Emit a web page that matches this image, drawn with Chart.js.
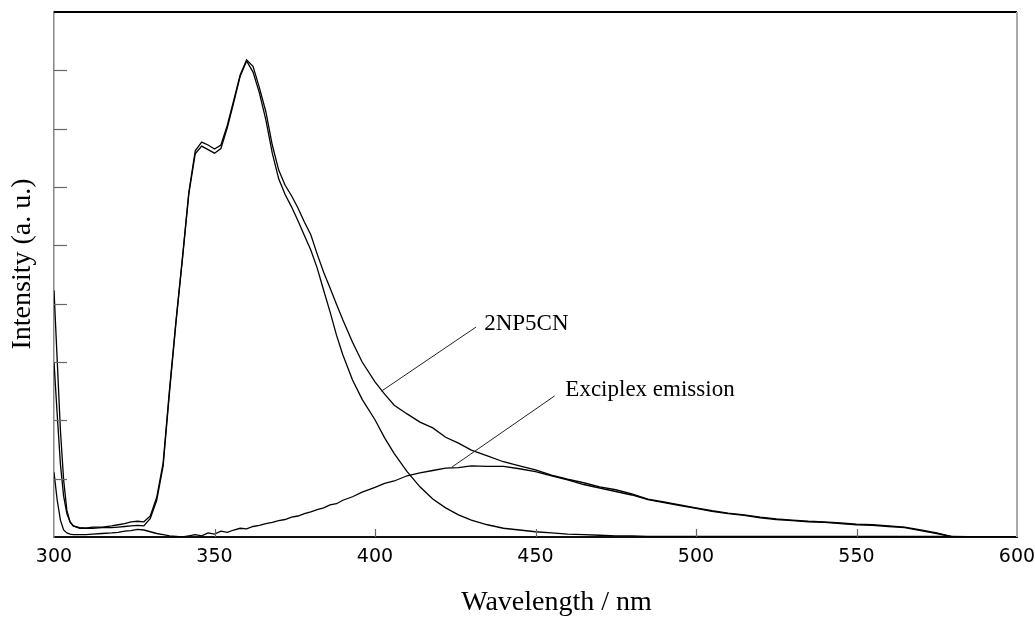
<!DOCTYPE html>
<html>
<head>
<meta charset="utf-8">
<script src="https://cdn.jsdelivr.net/npm/chart.js@4.4.1/dist/chart.umd.min.js"></script>
<style>
  html, body { margin: 0; padding: 0; background: #fff; }
  #wrap { width: 1035px; height: 621px; }
</style>
</head>
<body>
<div id="wrap"><canvas id="c" width="1035" height="621"></canvas></div>
<script>
// Wavelength grid (nm)
const wavelengths = [300,301,302,303,304,305,306,308,310,312,315,318,320,322,324,326,328,330,332,334,336,338,340,342,344,346,348,350,352,354,356,358,360,362,364,366,368,370,372,374,376,378,380,382,384,386,388,390,393,396,400,403,406,410,414,418,422,426,430,435,440,445,450,455,460,465,470,475,480,485,490,495,500,505,510,515,520,525,530,535,540,545,550,555,560,565,570,575,580,590,600];

// 2NP5CN (total emission)
const intensity2NP5CN = [4.23,3.03,1.83,0.98,0.46,0.26,0.19,0.15,0.15,0.17,0.17,0.19,0.21,0.23,0.26,0.27,0.26,0.36,0.68,1.27,2.54,3.70,4.78,5.91,6.62,6.77,6.72,6.65,6.72,7.06,7.49,7.92,8.18,8.07,7.70,7.29,6.72,6.29,6.03,5.85,5.64,5.40,5.18,4.85,4.54,4.27,3.99,3.72,3.34,3.00,2.66,2.45,2.26,2.11,1.97,1.87,1.71,1.61,1.49,1.39,1.29,1.22,1.15,1.06,0.99,0.93,0.86,0.81,0.74,0.65,0.60,0.55,0.50,0.45,0.41,0.38,0.34,0.31,0.29,0.27,0.26,0.24,0.22,0.21,0.19,0.17,0.12,0.07,0.00,0.00,0.00];

// 2NP (monomer emission)
const intensity2NP = [3.00,2.10,1.25,0.70,0.40,0.26,0.19,0.16,0.15,0.15,0.16,0.16,0.17,0.18,0.19,0.20,0.19,0.32,0.63,1.22,2.49,3.68,4.76,5.88,6.57,6.70,6.64,6.58,6.66,7.02,7.45,7.90,8.16,7.97,7.61,7.15,6.58,6.14,5.87,5.66,5.42,5.17,4.92,4.61,4.23,3.86,3.46,3.12,2.69,2.36,2.01,1.70,1.43,1.12,0.86,0.65,0.50,0.38,0.29,0.21,0.15,0.12,0.09,0.07,0.05,0.04,0.03,0.02,0.02,0.01,0.01,0.01,0.01,0.01,0.01,0.01,0.01,0.01,0.01,0.01,0.01,0.01,0.01,0.01,0.01,0.01,0.01,0.01,0.01,0.00,0.00];

// Exciplex emission (difference spectrum)
const intensityExciplex = [1.11,0.63,0.29,0.12,0.07,0.05,0.04,0.04,0.04,0.05,0.06,0.07,0.08,0.10,0.11,0.13,0.12,0.09,0.06,0.04,0.02,0.01,0.00,0.02,0.04,0.02,0.07,0.05,0.10,0.08,0.12,0.15,0.14,0.18,0.20,0.23,0.25,0.28,0.30,0.34,0.36,0.40,0.43,0.47,0.50,0.55,0.57,0.63,0.69,0.77,0.85,0.92,0.96,1.05,1.10,1.14,1.18,1.19,1.22,1.21,1.21,1.17,1.12,1.05,0.98,0.90,0.84,0.78,0.72,0.64,0.59,0.54,0.49,0.44,0.40,0.37,0.33,0.30,0.28,0.26,0.25,0.23,0.21,0.20,0.18,0.16,0.11,0.06,0.00,0.00,0.00];

// Axis ticks
const xTicks = [300, 350, 400, 450, 500, 550, 600];
const yTicks = [1, 2, 3, 4, 5, 6, 7, 8];

// Annotation labels: text, text anchor (nm, a.u.), leader line from -> to (nm, a.u.)
const labelTexts = ['2NP5CN', 'Exciplex emission'];
const labelAnchors = [[434, 3.55], [459.3, 2.42]];
const leaderFrom = [[431.5, 3.6], [456, 2.42]];
const leaderTo = [[402, 2.5], [424, 1.2]];

const toXY = ys => wavelengths.map((w, i) => ({ x: w, y: ys[i] }));

const insideTicks = {
  id: 'insideTicks',
  afterDraw(chart) {
    const { ctx, chartArea: a, scales: { x, y } } = chart;
    ctx.save();
    // frame top and right
    ctx.lineWidth = 2;
    ctx.strokeStyle = '#000';
    ctx.beginPath(); ctx.moveTo(a.left, a.top); ctx.lineTo(a.right, a.top); ctx.stroke();
    ctx.strokeStyle = '#aaa';
    ctx.beginPath(); ctx.moveTo(a.right, a.top); ctx.lineTo(a.right, a.bottom); ctx.stroke();
    // inward ticks
    ctx.lineWidth = 1.2;
    ctx.strokeStyle = '#666';
    yTicks.forEach(v => {
      const py = Math.round(y.getPixelForValue(v)) + 0.5;
      ctx.beginPath(); ctx.moveTo(a.left, py); ctx.lineTo(a.left + 13, py); ctx.stroke();
    });
    xTicks.slice(1, -1).forEach(v => {
      const px = Math.round(x.getPixelForValue(v)) + 0.5;
      ctx.beginPath(); ctx.moveTo(px, a.bottom); ctx.lineTo(px, a.bottom - 8); ctx.stroke();
    });
    // annotations
    ctx.strokeStyle = '#222';
    ctx.lineWidth = 1;
    ctx.fillStyle = '#000';
    ctx.font = '23px "Liberation Serif", "Times New Roman", serif';
    ctx.textBaseline = 'alphabetic';
    labelTexts.forEach((t, i) => {
      ctx.beginPath();
      ctx.moveTo(x.getPixelForValue(leaderFrom[i][0]), y.getPixelForValue(leaderFrom[i][1]));
      ctx.lineTo(x.getPixelForValue(leaderTo[i][0]), y.getPixelForValue(leaderTo[i][1]));
      ctx.stroke();
      ctx.fillText(t, x.getPixelForValue(labelAnchors[i][0]), y.getPixelForValue(labelAnchors[i][1]));
    });
    ctx.restore();
  }
};

const lineStyle = { borderColor: '#000', borderWidth: 1.3, pointRadius: 0, tension: 0, fill: false };

new Chart(document.getElementById('c'), {
  type: 'line',
  data: {
    datasets: [
      { label: '2NP5CN', data: toXY(intensity2NP5CN), ...lineStyle },
      { label: '2NP', data: toXY(intensity2NP), ...lineStyle },
      { label: 'Exciplex emission', data: toXY(intensityExciplex), ...lineStyle }
    ]
  },
  options: {
    responsive: false,
    animation: false,
    events: [],
    layout: { padding: { top: 12, right: 18, left: 0, bottom: 0 } },
    plugins: { legend: { display: false }, tooltip: { enabled: false } },
    scales: {
      x: {
        type: 'linear',
        min: 300, max: 600,
        afterBuildTicks: s => { s.ticks = xTicks.map(v => ({ value: v })); },
        afterFit: s => { s.height = 84; s.paddingLeft = 0; s.paddingRight = 0; },
        grid: { display: false, drawTicks: false },
        border: { display: true, color: '#111', width: 2 },
        ticks: {
          color: '#000',
          padding: 9,
          maxRotation: 0,
          autoSkip: false,
          font: { family: '"DejaVu Sans", sans-serif', size: 19 }
        },
        title: {
          display: true,
          text: '\u00a0\u00a0\u00a0\u00a0\u00a0\u00a0Wavelength / nm',
          color: '#000',
          padding: { top: 0, bottom: 2 },
          font: { family: '"Liberation Serif", "Times New Roman", serif', size: 28 }
        }
      },
      y: {
        min: 0, max: 9,
        afterBuildTicks: s => { s.ticks = [0].concat(yTicks, [9]).map(v => ({ value: v })); },
        afterFit: s => { s.width = 54; },
        grid: { display: false, drawTicks: false },
        border: { display: true, color: '#888', width: 1.5 },
        ticks: { display: false },
        title: {
          display: true,
          text: '\u00a0\u00a0\u00a0Intensity (a. u.)',
          color: '#000',
          padding: { top: 6, bottom: 0 },
          font: { family: '"Liberation Serif", "Times New Roman", serif', size: 28 }
        }
      }
    }
  },
  plugins: [insideTicks]
});
</script>
</body>
</html>
